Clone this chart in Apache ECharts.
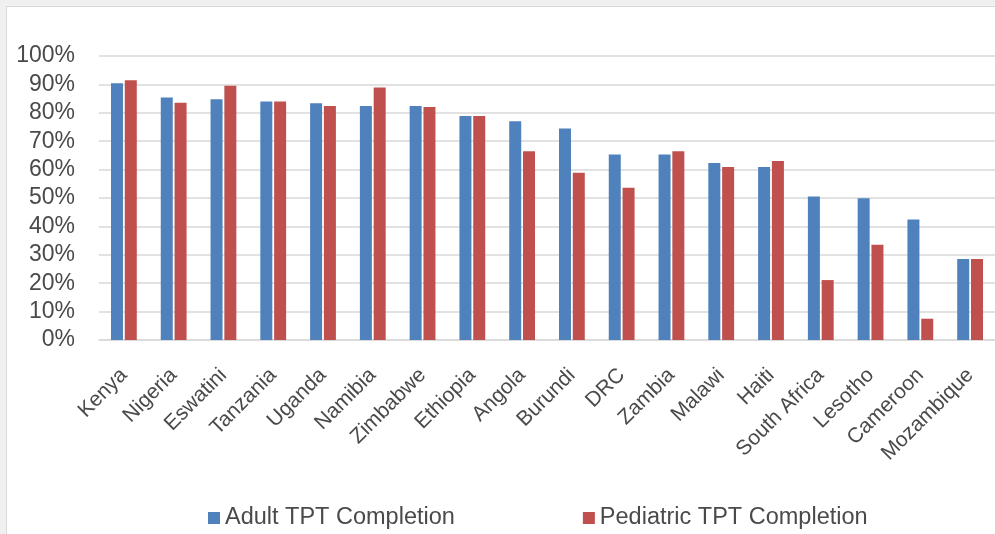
<!DOCTYPE html>
<html>
<head>
<meta charset="utf-8">
<script src="https://cdn.jsdelivr.net/npm/echarts@6/dist/echarts.min.js"></script>
<style>
  html, body { margin: 0; padding: 0; background: #f0f0f0; width: 995px; height: 534px; overflow: hidden; }
  #frame { position: absolute; left: 6px; top: 6px; width: 1000px; height: 540px; background: #ffffff; border: 1px solid #d9d9d9; }
  #chart { position: absolute; left: 0; top: 0; width: 995px; height: 534px; }
</style>
</head>
<body>
<div id="frame"></div>
<div id="chart"></div>
<script>
const categories = ['Kenya','Nigeria','Eswatini','Tanzania','Uganda','Namibia','Zimbabwe','Ethiopia','Angola','Burundi','DRC','Zambia','Malawi','Haiti','South Africa','Lesotho','Cameroon','Mozambique'];
const adultTPT = [90.4, 85.4, 84.8, 84.0, 83.4, 82.4, 82.4, 78.9, 77.0, 74.5, 65.3, 65.3, 62.3, 60.9, 50.5, 49.9, 42.4, 28.5];
const pediatricTPT = [91.5, 83.5, 89.5, 84.0, 82.4, 88.9, 82.0, 78.9, 66.5, 58.9, 53.6, 66.5, 60.9, 63.0, 21.1, 33.5, 7.5, 28.5];
const seriesNames = ['Adult TPT Completion', 'Pediatric TPT Completion'];

const font = "'Liberation Sans', Arial, sans-serif";
const textColor = '#4a4a4a';
const chart = echarts.init(document.getElementById('chart'), null, { renderer: 'canvas' });
chart.setOption({
  backgroundColor: 'transparent',
  animation: false,
  grid: { left: 99, right: 0, top: 56, bottom: 194, containLabel: false },
  legend: {
    data: seriesNames,
    left: 203,
    top: 501,
    itemWidth: 12,
    itemHeight: 12,
    itemGap: 128,
    icon: 'rect',
    textStyle: { fontFamily: font, fontSize: 23.5, color: textColor }
  },
  xAxis: {
    type: 'category',
    data: categories,
    axisLine: { show: true, lineStyle: { color: '#d9d9d9', width: 1.5 } },
    axisTick: { show: false },
    axisLabel: { rotate: 45, interval: 0, margin: 32, fontFamily: font, fontSize: 21, color: textColor }
  },
  yAxis: {
    type: 'value',
    min: 0, max: 100, interval: 10,
    axisLine: { show: false },
    axisTick: { show: false },
    splitLine: { lineStyle: { color: '#d9d9d9', width: 1.5 } },
    axisLabel: { formatter: '{value}%', margin: 24, fontFamily: font, fontSize: 23, color: textColor }
  },
  series: [
    { name: seriesNames[0], type: 'bar', data: adultTPT, barWidth: 12, barGap: '15%', itemStyle: { color: '#4F81BD' } },
    { name: seriesNames[1], type: 'bar', data: pediatricTPT, barWidth: 12, barGap: '15%', itemStyle: { color: '#C0504D' } }
  ]
});
</script>
</body>
</html>
